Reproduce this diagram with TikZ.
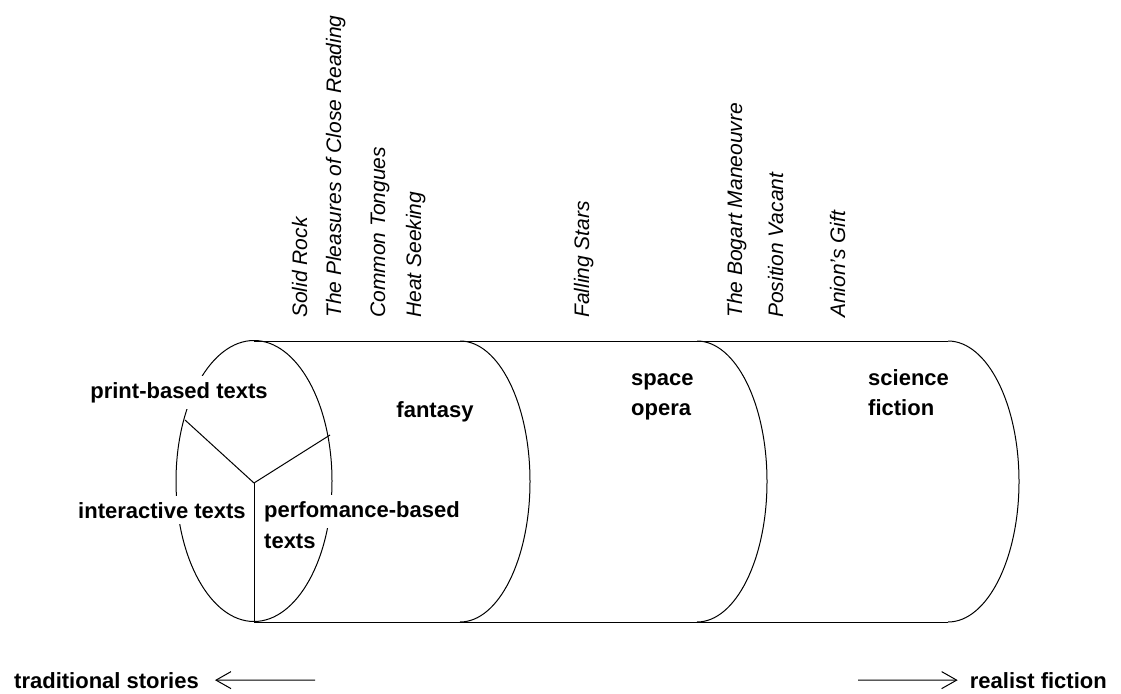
\documentclass[tikz,border=0pt]{standalone}
\usepackage{fontspec}
\setmainfont{Liberation Sans}
\usetikzlibrary{arrows.meta}
\tikzset{
  rim/.style={line width=1pt},
  lbl/.style={font=\bfseries\fontsize{22}{26}\selectfont,inner sep=1pt},
  blank/.style={lbl,fill=white,inner xsep=1pt,inner ysep=6pt},
  ttl/.style={font=\itshape\fontsize{21}{25}\selectfont,rotate=90,anchor=base west,inner sep=0pt},
  arr/.style={line width=1pt,-{Straight Barb[length=15pt,width=17pt]}}
}

\begin{document}
\begin{tikzpicture}[x=1pt,y=-1pt]
\fill[white] (0,0) rectangle (1121,693);
\useasboundingbox (0,0) rectangle (1121,693);
% cylinder
\draw[rim] (254,341) -- (948,341); \draw[rim] (254,622) -- (948,622);
\draw[rim] (254,481) ellipse [x radius=78,y radius=140.5];
\draw[rim] (460,341) arc[start angle=-90,end angle=90,x radius=70,y radius=140.5];
\draw[rim] (697,341) arc[start angle=-90,end angle=90,x radius=70,y radius=140.5];
\draw[rim] (948,341) arc[start angle=-90,end angle=90,x radius=71,y radius=140.5];
% end face
\node[blank,anchor=base] (print) at (179,398) {print-based texts};
\node[blank,anchor=base] (inter) at (162,518) {interactive texts};
\node[blank,anchor=base west] (perf) at (263,517) {perfomance-based};
\node[lbl,anchor=base west] (perf2) at (263,548) {texts};
\coordinate (hub) at (254,483);
\coordinate (rimpr) at (185,420); \coordinate (rimpf) at (330,435); \coordinate (rimbot) at (254,622);
\draw[rim] (hub) -- (rimpr); \draw[rim] (hub) -- (rimpf); \draw[rim] (hub) -- (rimbot);
% sections
\node[lbl,anchor=base] (fant) at (435,417) {fantasy};
\node[lbl,anchor=base west,align=left] (space) at (630,415) {space\\[4pt]opera};
\node[lbl,anchor=base west,align=left] (scifi) at (867,415) {science\\[4pt]fiction};
% titles
\node[ttl] (rock) at (307,318) {Solid Rock};
\node[ttl] (pleas) at (341,318) {The Pleasures of Close Reading};
\node[ttl] (tong) at (385,318) {Common Tongues};
\node[ttl] (heat) at (421,318) {Heat Seeking};
\node[ttl] (stars) at (589,318) {Falling Stars};
\node[ttl] (bogart) at (742,318) {The Bogart Maneouvre};
\node[ttl] (vacant) at (783,318) {Position Vacant};
\node[ttl] (anion) at (845,318) {Anion's Gift};
% scale
\node[lbl,anchor=base west] (trad) at (13,688) {traditional stories};
\node[lbl,anchor=base east] (real) at (1108,688) {realist fiction};
\coordinate (tradtail) at (315,680); \coordinate (realtail) at (858,680);
\draw[arr] (tradtail) -- ([xshift=15pt]trad.east);
\draw[arr] (realtail) -- ([xshift=-11pt]real.west);
\end{tikzpicture}
\end{document}
